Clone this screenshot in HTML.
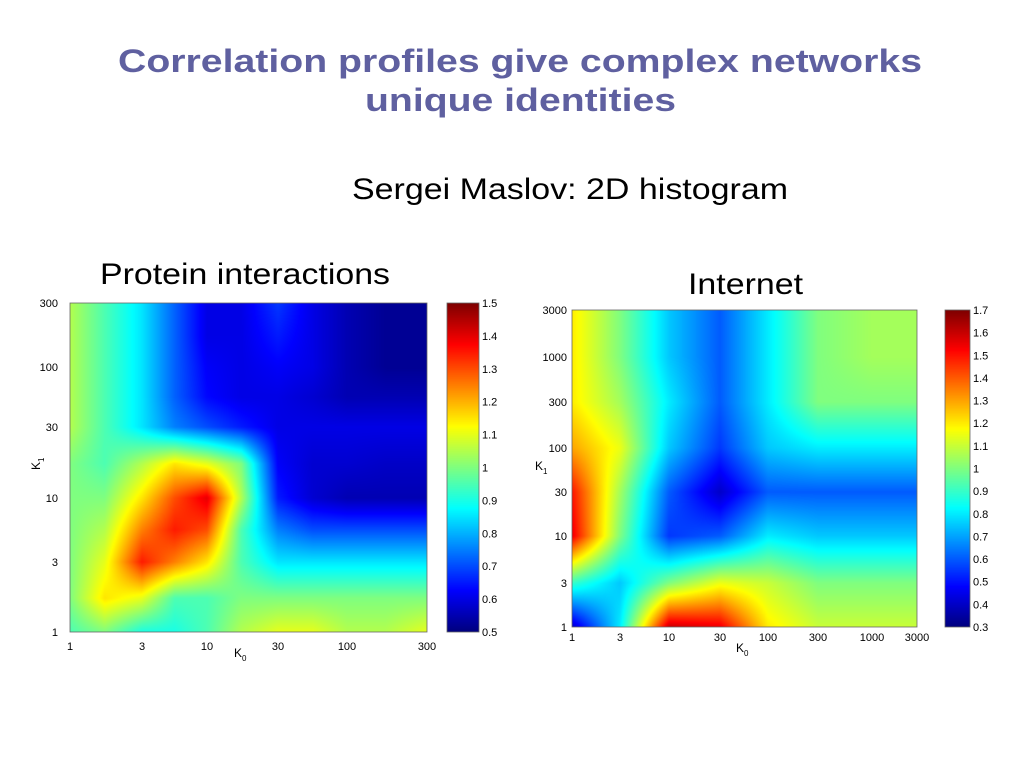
<!DOCTYPE html>
<html><head><meta charset="utf-8">
<style>
html,body{margin:0;padding:0;background:#fff;}
#wrap{position:relative;width:1024px;height:768px;overflow:hidden;font-family:"Liberation Sans",Arial,sans-serif;}
svg{position:absolute;left:0;top:0;}
canvas{position:absolute;}
</style></head>
<body>
<div id="wrap">
<canvas id="c1" style="left:70px;top:303px" width="357" height="329"></canvas>
<canvas id="cb1" style="left:447px;top:303px" width="32" height="329"></canvas>
<canvas id="c2" style="left:572px;top:310px" width="345" height="317"></canvas>
<canvas id="cb2" style="left:945px;top:310px" width="25" height="317"></canvas>
<svg id="s" width="1024" height="768">
<text x="118" y="72" textLength="804" lengthAdjust="spacingAndGlyphs" font-size="32" font-weight="bold" fill="#5f60a0">Correlation profiles give complex networks</text>
<text x="365" y="111" textLength="311" lengthAdjust="spacingAndGlyphs" font-size="32" font-weight="bold" fill="#5f60a0">unique identities</text>
<text x="352" y="199" textLength="436" lengthAdjust="spacingAndGlyphs" font-size="30" fill="#000">Sergei Maslov: 2D histogram</text>
<text x="100" y="284" textLength="290" lengthAdjust="spacingAndGlyphs" font-size="30" fill="#000">Protein interactions</text>
<text x="688" y="294" textLength="115" lengthAdjust="spacingAndGlyphs" font-size="30" fill="#000">Internet</text>
<g id="axes"></g>
</svg>
</div>
<script>
// ---- Protein interactions data ----
const pTicks = ["1","3","10","30","100","300"];
const pNodesK = [1,1.7,3,5.5,10,17,30,55,100,170,300];
const pValues = [ // rows bottom (K1=1) to top (K1=300), cols K0=1..300
 [0.95,1.0,0.9,0.9,0.95,1.05,1.1,1.1,1.05,1.05,1.1],
 [1.0,1.15,1.1,0.95,0.95,1.0,1.0,1.0,1.0,1.0,1.0],
 [1.0,1.1,1.35,1.25,1.15,0.95,0.85,0.85,0.85,0.85,0.85],
 [1.0,1.05,1.25,1.35,1.3,0.95,0.75,0.7,0.7,0.7,0.7],
 [1.0,1.0,1.15,1.3,1.4,1.05,0.65,0.58,0.55,0.55,0.55],
 [1.0,0.95,1.05,1.15,1.1,1.0,0.62,0.58,0.58,0.57,0.57],
 [1.05,0.95,0.85,0.75,0.7,0.65,0.6,0.6,0.6,0.6,0.6],
 [1.05,0.95,0.85,0.72,0.63,0.6,0.6,0.58,0.55,0.55,0.55],
 [1.05,0.95,0.85,0.72,0.62,0.6,0.62,0.6,0.55,0.52,0.52],
 [1.05,0.95,0.85,0.72,0.6,0.6,0.65,0.6,0.55,0.52,0.52],
 [1.05,0.95,0.85,0.72,0.6,0.6,0.68,0.6,0.55,0.52,0.52]
];
const pColorTicks = ["0.5","0.6","0.7","0.8","0.9","1","1.1","1.2","1.3","1.4","1.5"];
// ---- Internet data ----
const iTicks = ["1","3","10","30","100","300","1000","3000"];
const iNodesK = [1,3,10,30,100,300,1000,3000];
const iValues = [ // rows bottom (K1=1) to top (K1=3000)
 [0.4,0.8,1.6,1.55,1.2,1.1,1.1,1.1],
 [0.9,0.75,1.0,1.15,1.1,1.0,1.0,1.0],
 [1.55,1.0,0.55,0.6,0.8,0.75,0.75,0.75],
 [1.5,1.05,0.6,0.4,0.6,0.6,0.6,0.6],
 [1.3,1.15,0.75,0.55,0.75,0.8,0.8,0.8],
 [1.2,1.05,0.8,0.6,0.8,1.0,1.0,1.0],
 [1.2,1.0,0.75,0.6,0.8,1.0,1.05,1.05],
 [1.2,1.0,0.75,0.6,0.8,1.0,1.05,1.05]
];
const iColorTicks = ["0.3","0.4","0.5","0.6","0.7","0.8","0.9","1","1.1","1.2","1.3","1.4","1.5","1.6","1.7"];

const pXAnchors = [70,142,207,278,347,427];
const pYAnchors = [632,562,498,427,367,303];
const iXAnchors = [572,620,669,720,768,818,872,917];
const iYAnchors = [627,583,536,492,448,402,357,310];

function makeLogAxis(tickKs, anchors){
  const L = tickKs.map(k=>Math.log10(k));
  return function(k){
    const l=Math.log10(k);
    for(let i=0;i<L.length-1;i++){
      if(l<=L[i+1]||i===L.length-2){
        const t=(l-L[i])/(L[i+1]-L[i]);
        return anchors[i]+t*(anchors[i+1]-anchors[i]);
      }
    }
  };
}
function jet(t){
  t=Math.max(0,Math.min(1,t));
  const f=x=>Math.max(0,Math.min(1,x));
  const r=f(1.5-Math.abs(4*t-3)), g=f(1.5-Math.abs(4*t-2)), b=f(1.5-Math.abs(4*t-1));
  return [r*255,g*255,b*255];
}
function drawHeat(id, nodesK, values, xAxis, yAxis, left, top, vmin, vmax){
  const cv=document.getElementById(id), ctx=cv.getContext('2d');
  const W=cv.width,H=cv.height, img=ctx.createImageData(W,H);
  const xs=nodesK.map(k=>xAxis(k)-left), ys=nodesK.map(k=>yAxis(k)-top);
  const n=nodesK.length;
  function frac(arr,p){
    const asc=arr[n-1]>arr[0];
    for(let i=0;i<n-1;i++){
      const a=arr[i],b=arr[i+1];
      const inside = asc ? (p<=b||i===n-2) : (p>=b||i===n-2);
      if(inside){ let t=(p-a)/(b-a); t=Math.max(0,Math.min(1,t)); return [i,t]; }
    }
  }
  for(let y=0;y<H;y++){
    const [j,ty]=frac(ys,y+0.5);
    for(let x=0;x<W;x++){
      const [i,tx]=frac(xs,x+0.5);
      const v=(1-ty)*((1-tx)*values[j][i]+tx*values[j][i+1])+ty*((1-tx)*values[j+1][i]+tx*values[j+1][i+1]);
      const c=jet((v-vmin)/(vmax-vmin)); const o=(y*W+x)*4;
      img.data[o]=c[0];img.data[o+1]=c[1];img.data[o+2]=c[2];img.data[o+3]=255;
    }
  }
  ctx.putImageData(img,0,0);
}
function drawBar(id){
  const cv=document.getElementById(id), ctx=cv.getContext('2d');
  for(let y=0;y<cv.height;y++){const c=jet(1-y/(cv.height-1));ctx.fillStyle=`rgb(${c[0]|0},${c[1]|0},${c[2]|0})`;ctx.fillRect(0,y,cv.width,1);}
}
const pX=makeLogAxis([1,3,10,30,100,300],pXAnchors), pY=makeLogAxis([1,3,10,30,100,300],pYAnchors);
const iX=makeLogAxis(iNodesK,iXAnchors), iY=makeLogAxis(iNodesK,iYAnchors);
drawHeat('c1',pNodesK,pValues,pX,pY,70,303,0.5,1.5);
drawHeat('c2',iNodesK,iValues,iX,iY,572,310,0.3,1.7);
drawBar('cb1');drawBar('cb2');

const NS='http://www.w3.org/2000/svg', g=document.getElementById('axes');
function txt(x,y,s,anchor,size,name){
  const t=document.createElementNS(NS,'text');
  t.setAttribute('x',x);t.setAttribute('y',y);t.setAttribute('font-size',size||11);
  t.setAttribute('text-anchor',anchor||'middle');t.textContent=s;
  
  
  g.appendChild(t);return t;
}
function rect(x,y,w,h,name){
  const r=document.createElementNS(NS,'rect');
  r.setAttribute('x',x);r.setAttribute('y',y);r.setAttribute('width',w);r.setAttribute('height',h);
  r.setAttribute('fill','none');r.setAttribute('stroke','#666');r.setAttribute('stroke-width','0.8');
  
  
  g.appendChild(r);
}
rect(70,303,357,329,'protein-plot-frame');rect(447,303,32,329,'protein-colorbar-frame');
rect(572,310,345,317,'internet-plot-frame');rect(945,310,25,317,'internet-colorbar-frame');
pTicks.forEach(s=>{const k=+s;
  txt(pX(k),650,s,'middle',11,'protein-x-tick');
  txt(58,pY(k)+4,s,'end',11,'protein-y-tick');});
iTicks.forEach(s=>{const k=+s;
  txt(iX(k),641,s,'middle',11,'internet-x-tick');
  txt(567,iY(k)+4,s,'end',11,'internet-y-tick');});
pColorTicks.forEach((s,i)=>txt(482,632-i*329/(pColorTicks.length-1)+4,s,'start',11,'protein-colorbar-tick'));
iColorTicks.forEach((s,i)=>txt(973,627-i*317/(iColorTicks.length-1)+4,s,'start',11,'internet-colorbar-tick'));
let t=txt(234,657,'K','start',12,'protein-x-axis-title');t.innerHTML='K<tspan font-size="8" dy="4">0</tspan>';
t=txt(736,652,'K','start',12,'internet-x-axis-title');t.innerHTML='K<tspan font-size="8" dy="4">0</tspan>';
t=txt(40,470,'K','start',12,'protein-y-axis-title');t.innerHTML='K<tspan font-size="8" dy="4">1</tspan>';t.setAttribute('transform','rotate(-90 40 470)');
t=txt(535,470,'K','start',12,'internet-y-axis-title');t.innerHTML='K<tspan font-size="8" dy="4">1</tspan>';
</script>
</body></html>
